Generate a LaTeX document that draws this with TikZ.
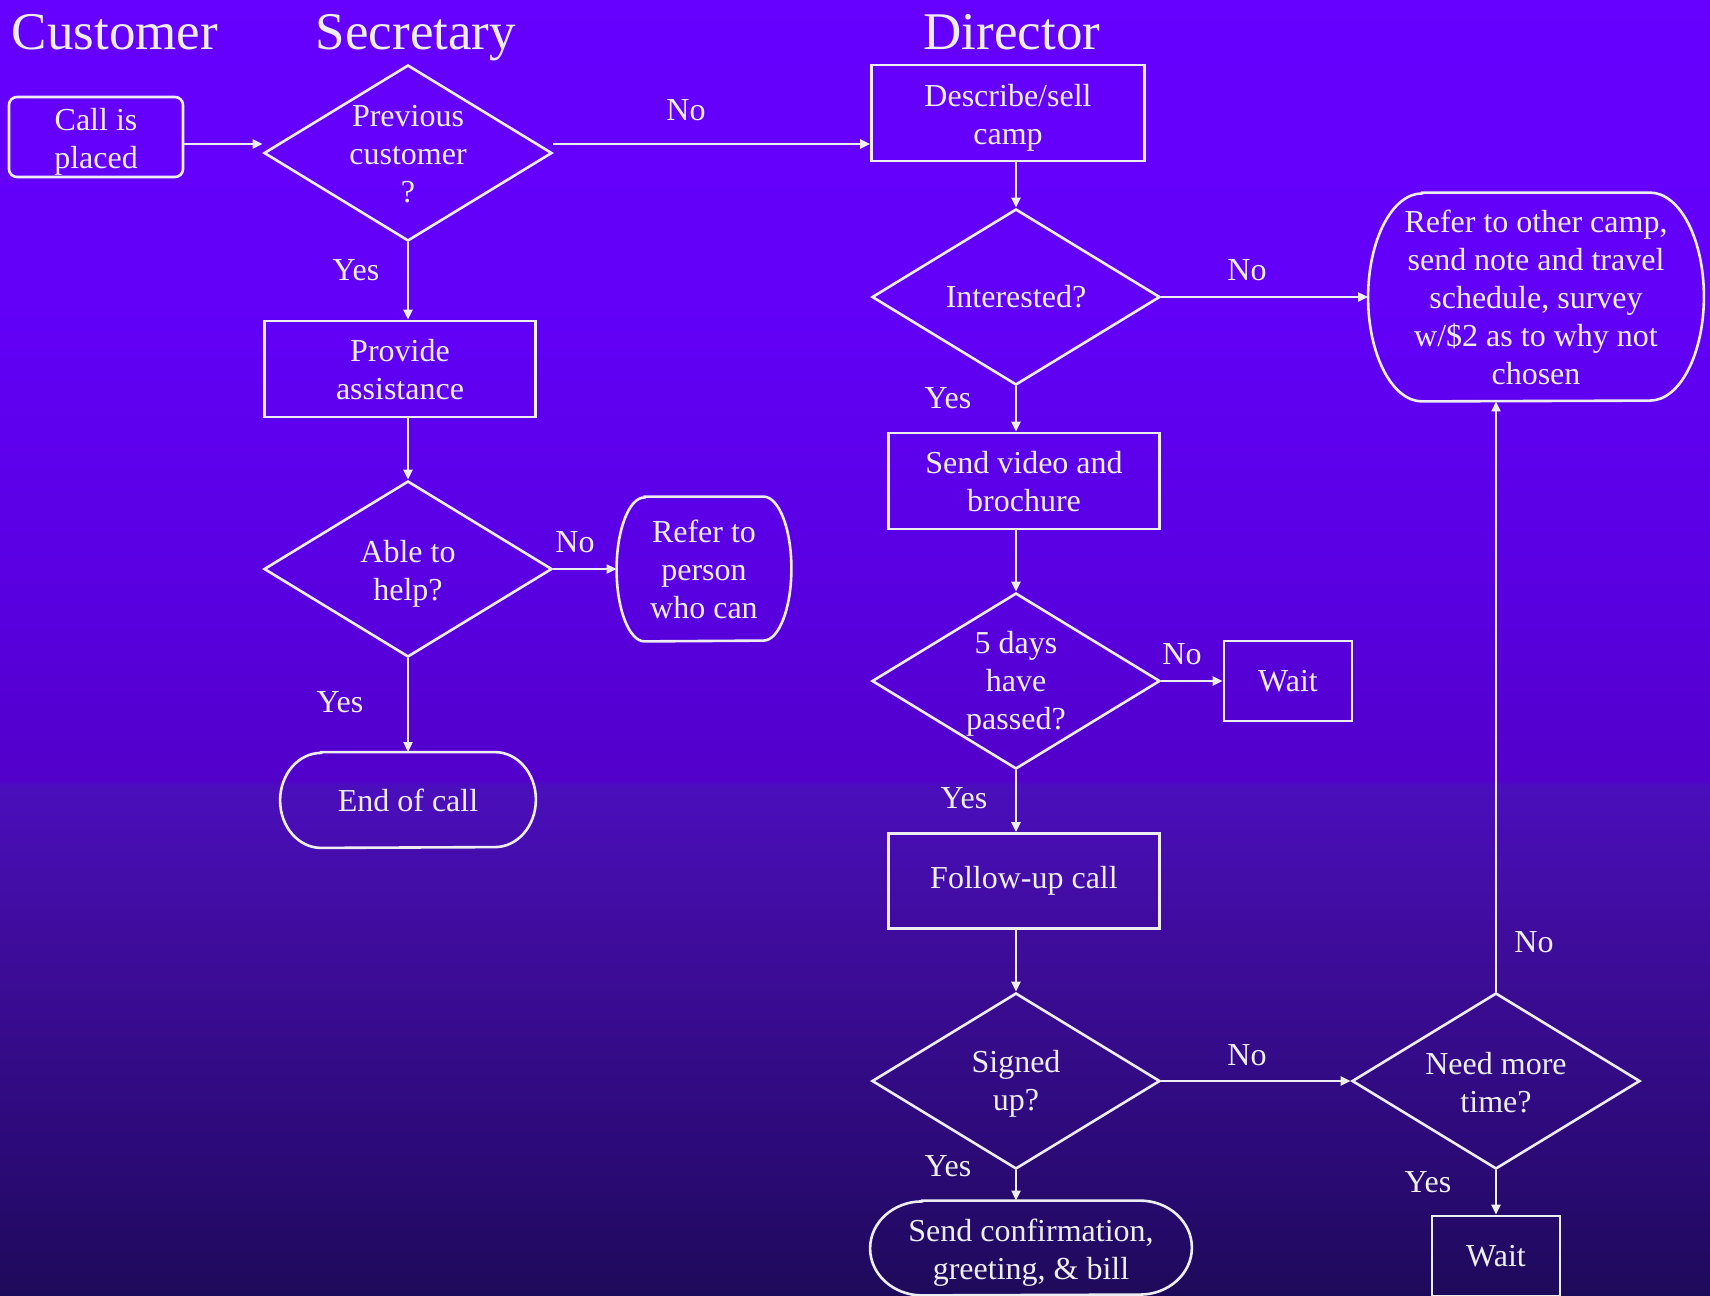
\documentclass[tikz,border=0pt]{standalone}
\usepackage{fontspec}
\setmainfont{Liberation Serif}
\usetikzlibrary{shapes.geometric,arrows.meta,calc}

\definecolor{ink}{HTML}{EEEEF2}
\definecolor{bgA0}{HTML}{6600FF}
\definecolor{bgA1}{HTML}{6200F8}
\definecolor{bgA2}{HTML}{5900E0}
\definecolor{bgB}{HTML}{5200CA}
\definecolor{bgC}{HTML}{4B0EBC}
\definecolor{bgD}{HTML}{3E0C9A}
\definecolor{bgE}{HTML}{2C0A78}
\definecolor{bgF}{HTML}{1E0A5A}

\pgfdeclareverticalshading{backdrop}{100bp}{%
  color(0bp)=(bgF); color(25bp)=(bgF); color(30.63bp)=(bgE);
  color(38.35bp)=(bgD); color(44.71bp)=(bgC); color(44.91bp)=(bgB);
  color(51.85bp)=(bgA2); color(63.43bp)=(bgA1); color(75bp)=(bgA0);
  color(100bp)=(bgA0)}

% outline of a terminator: flat top and bottom, half-ellipse ends
\newcommand\stadium[3]{%
  \draw[outline] ($(#1.north west)+(#2,0)$) -- ($(#1.north east)+(-#2,0)$)
    arc[start angle=-90,end angle=90,x radius=#2,y radius=#3]
    -- ($(#1.south west)+(#2,0)$)
    arc[start angle=90,end angle=270,x radius=#2,y radius=#3] -- cycle;}

\begin{document}
\begin{tikzpicture}[x=0.5pt,y=-0.5pt,
  outline/.style={draw=ink,line width=1.3pt},
  arr/.style={outline,-{Triangle[length=5pt,width=4.4pt]}},
  txt/.style={text=ink,font=\fontsize{16}{19}\selectfont,align=center},
  multi/.style={txt,yshift=-#1},
  title/.style={text=ink,font=\fontsize{26.5}{30}\selectfont,anchor=base,inner sep=0pt},
  procbox/.style={txt,outline,rectangle,inner sep=0pt},
  termbox/.style={txt,rectangle,inner sep=0pt},
  dia/.style={outline,diamond,inner sep=0pt,minimum width=144pt,minimum height=88pt},
  lbl/.style={txt,inner sep=0pt}]

\shade[shading=backdrop] (0,0) rectangle (1710,1296);
\useasboundingbox (0,0) rectangle (1710,1296);

% column headings
\node[title] (hcust) at (115,49) {Customer};
\node[title] (hsec)  at (416,49) {Secretary};
\node[title] (hdir)  at (1012,49) {Director};

% customer and secretary
\node[procbox,rounded corners=4pt,minimum width=87pt,minimum height=40pt] (call) at (96,137) {};
\node[multi=2.2pt] (callt) at (call.center) {Call is\\placed};
\node[dia] (prev) at (408,153) {};
\node[multi=0.6pt] (prevt) at (prev.center) {Previous\\customer\\?};
\node[procbox,minimum width=135.5pt,minimum height=48pt] (prov) at (400,369) {};
\node[multi=0.5pt] (provt) at (prov.center) {Provide\\assistance};
\node[dia] (able) at (408,569) {};
\node[multi=2.2pt] (ablet) at (able.center) {Able to\\help?};
\node[termbox,minimum width=87pt,minimum height=72pt] (refp) at (704,569) {};
\node[multi=0pt] (refpt) at (refp.center) {Refer to\\person\\who can};
\stadium{refp}{28}{72}
\node[termbox,minimum width=127.5pt,minimum height=47.5pt] (endc) at (408,800) {End of call};
\stadium{endc}{41}{47.5}

% director
\node[procbox,minimum width=136.5pt,minimum height=48pt] (desc) at (1008,113) {};
\node[multi=2.2pt] (desct) at (desc.center) {Describe/sell\\camp};
\node[dia] (int) at (1016,297) {};
\node[txt] (intt) at (int.center) {Interested?};
\node[termbox,minimum width=167.5pt,minimum height=104pt] (refo) at (1536,297) {};
\node[multi=0pt] (refot) at (refo.center) {Refer to other camp,\\send note and travel\\schedule, survey\\w/\$2 as to why not\\chosen};
\stadium{refo}{54}{104}
\node[procbox,minimum width=135.5pt,minimum height=48pt] (video) at (1024,481) {};
\node[multi=0.5pt] (videot) at (video.center) {Send video and\\brochure};
\node[dia] (five) at (1016,681) {};
\node[multi=1.6pt] (fivet) at (five.center) {5 days\\have\\passed?};
\node[procbox,minimum width=64pt,minimum height=40pt] (waita) at (1288,681) {Wait};
\node[procbox,minimum width=135.5pt,minimum height=47.5pt] (follow) at (1024,881) {Follow-up call};
\node[dia] (signed) at (1016,1081) {};
\node[multi=1.6pt] (signedt) at (signed.center) {Signed\\up?};
\node[dia] (need) at (1496,1081) {};
\node[multi=0.6pt] (needt) at (need.center) {Need more\\time?};
\node[termbox,minimum width=160.5pt,minimum height=47pt] (conf) at (1031,1248) {};
\node[multi=2.2pt] (conft) at (conf.center) {Send confirmation,\\greeting, \& bill};
\stadium{conf}{52}{47}
\node[procbox,minimum width=64pt,minimum height=40pt] (waitb) at (1496,1256) {Wait};

% connectors
\draw[arr] ($(call.east)+(0,7)$) -- ($(call.east -| prev.west)+(0,7)$);
\draw[arr] ($(prev.east)+(0,-9)$) -- ($(prev.east -| desc.west)+(0,-9)$);
\draw[arr] (prev.south) -- (prev.south |- prov.north);
\draw[arr] (able.north |- prov.south) -- (able.north);
\draw[arr] (able.east) -- (refp.west);
\draw[arr] (able.south) -- (able.south |- endc.north);
\draw[arr] (int.north |- desc.south) -- (int.north);
\draw[arr] (int.east) -- (refo.west);
\draw[arr] (int.south) -- (int.south |- video.north);
\draw[arr] (five.north |- video.south) -- (five.north);
\draw[arr] (five.east) -- (waita.west);
\draw[arr] (five.south) -- (five.south |- follow.north);
\draw[arr] (signed.north |- follow.south) -- (signed.north);
\draw[arr] (signed.east) -- (need.west);
\draw[arr] (signed.south) -- (signed.south |- conf.north);
\draw[arr] (need.south) -- (waitb.north);
\draw[arr] (need.north) -- (need.north |- refo.south);

% branch labels
\node[lbl] (l1)  at (686,110)  {No};
\node[lbl] (l2)  at (356,270)  {Yes};
\node[lbl] (l3)  at (575,542)  {No};
\node[lbl] (l4)  at (340,702)  {Yes};
\node[lbl] (l5)  at (1247,270) {No};
\node[lbl] (l6)  at (948,398)  {Yes};
\node[lbl] (l7)  at (1182,654) {No};
\node[lbl] (l8)  at (964,798)  {Yes};
\node[lbl] (l9)  at (1247,1055) {No};
\node[lbl] (l10) at (948,1166) {Yes};
\node[lbl] (l11) at (1428,1182) {Yes};
\node[lbl] (l12) at (1534,942) {No};
\end{tikzpicture}
\end{document}
